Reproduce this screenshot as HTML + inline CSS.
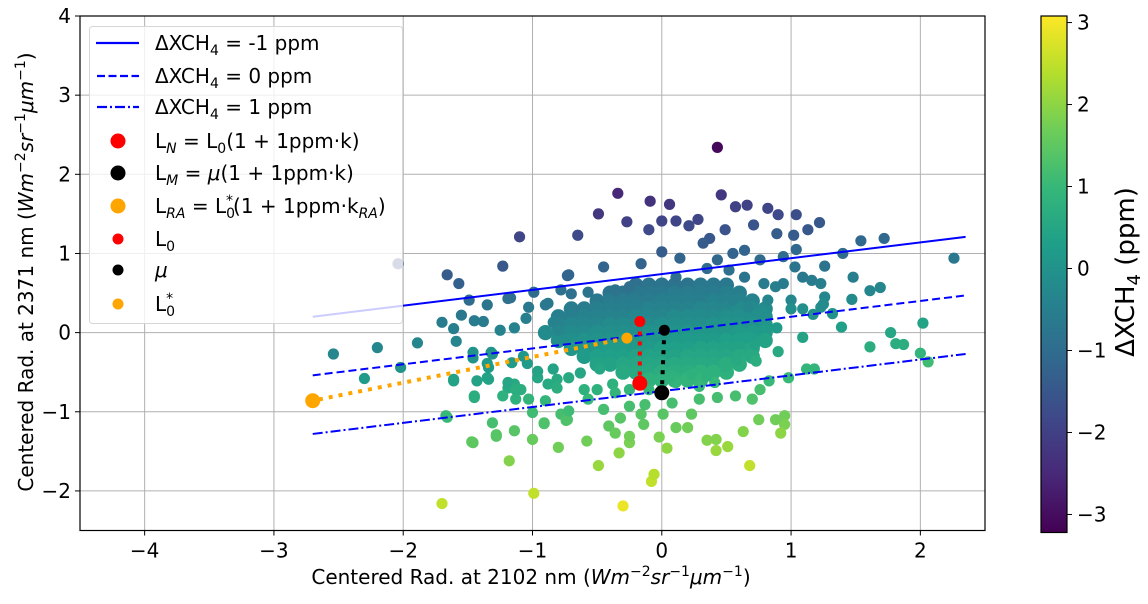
<!DOCTYPE html>
<html><head><meta charset="utf-8"><style>
html,body{margin:0;padding:0;background:#fff;}
body{position:relative;width:1148px;height:599px;overflow:hidden;}
svg text{font-family:"DejaVu Sans","Liberation Sans",sans-serif;fill:#000;}
</style></head><body>
<svg id="chart" xmlns="http://www.w3.org/2000/svg" width="1148" height="599" viewBox="0 0 1148 599">
<g id="grid"></g>
<g id="points"></g>
<g id="lines"></g>
<g id="specials"></g>
<g id="axes"></g>
<g id="cbar"></g>
</svg>
<script>
// ---- data ----
const xTicks = [-4,-3,-2,-1,0,1,2];
const yTicks = [-2,-1,0,1,2,3,4];
const cTicks = [-3,-2,-1,0,1,2,3];
const xDomain = [-4.5, 2.5];
const yDomain = [-2.5, 4];
const cDomain = [-3.22, 3.08];
// scattered (outlying) points
const xs = [
0.43,-0.34,-0.09,0.06,0.46,-0.49,-0.27,0,0.11,0.28,0.57,0.66,0.82,0.9,1.04,1.22,0.71,-0.65,-1.1,-1.23,-1.66,-1.57,1.54,1.72,2.26,1.4,1.48,1.61,1.69,1.47,1.26,1.13,0.89,0.49,0.37,0.21,-0.1,1.04,1.02,1.03,1.09,1.16,1.23,0.79,0.88,0.94,0.94,0.76,0.64,0.55,0.43,0.32,0.14,0,-0.16,-0.45,-0.72,-0.99,-1.19,-1.35,-1.49,-1.55,-0.9,-0.78,-0.57,-0.36,-0.25,0.11,0.35,0.52,0.64,1.26,1.23,1.32,1.09,1.0,0.82,0.67,0.55,
-2.54,-2.2,-1.89,-1.7,-1.45,-1.38,-1.61,-1.59,-2.3,-2.02,-1.61,-1.66,-1.45,-1.46,-1.28,-1.14,-0.91,-0.78,-0.74,-1.46,-1.32,-1.25,-1.14,-1.05,-1.17,-1.03,-0.88,-0.84,-0.8,-0.73,-0.7,-1.35,-1.14,-1.09,-1.19,-0.96,-0.88,-1.35,-1.04,
-1.7,-0.99,-0.3,-0.08,-0.06,0.68,-0.49,-0.33,-1.18,-1.47,-1,-0.8,-0.58,-0.25,0.04,-0.02,0.35,0.42,0.42,0.51,0.63,0.75,0.88,0.95,0.95,0.92,2.02,2.06,2.0,1.77,1.81,1.87,1.61,1.39,1.09,0.9,1.12,1.18,0.98,0.83,0.73,0.58,0.76,0.7,0.57,0.43,0.29,0.2,0.11,0.23,0.01,-0.14,-0.16,-0.32,-0.41,-0.36,-0.25,-0.73,-0.91,-1,-1.13,-1.28,-1.31,-1.67,-1.45,-1.23,-1.03,-0.9,-0.72,-0.57,-0.45,-0.25,-0.13,0.08,-1.61,-1.46,-1.43,-1.34,-1.19,-1.13,-0.81,-0.81,-0.6,-0.5,-0.38,-0.36,-0.25,-0.1,0.11,0.29,0.41,0.49,0.35,0.23,0.07,1.0,1.17,1.25,0.89,0.79,0.66,0.72,-1.16,-1.34,-1.31,-1.07,-0.96,-0.84,-0.72,-0.63,-0.48
];
const ys = [
2.34,1.76,1.66,1.62,1.74,1.5,1.4,1.41,1.41,1.43,1.59,1.61,1.57,1.49,1.49,1.39,1.36,1.23,1.21,0.84,0.73,0.62,1.16,1.19,0.94,1.0,0.7,0.53,0.57,0.42,0.84,1.3,1.25,1.3,1.19,1.35,1.3,1.05,1.23,0.83,0.7,0.66,0.62,0.62,0.58,0.62,0.96,0.92,1.04,1.0,0.92,1.13,0.94,1.02,0.87,0.83,0.73,0.51,0.43,0.35,0.41,0.22,0.35,0.54,0.51,0.54,0.58,0.7,0.81,0.79,0.7,0.45,0.32,0.24,0.3,0.41,0.41,0.32,0.41,
-0.27,-0.19,-0.13,0.13,0.15,0.14,0.05,-0.11,-0.58,-0.44,-0.61,-1.07,-0.82,-1.39,-1.31,-1.24,-1.15,-1.03,-1.11,-0.32,-0.25,0.03,0.06,0.18,0.44,0.32,0.37,0.13,0.03,0.72,0.49,-0.57,-0.65,-0.72,-0.7,-0.57,-0.65,-0.39,-0.39,
-2.16,-2.03,-2.19,-1.88,-1.79,-1.68,-1.68,-1.52,-1.62,-1.38,-1.35,-1.45,-1.37,-1.39,-1.46,-1.32,-1.36,-1.35,-1.49,-1.44,-1.25,-1.1,-1.1,-1.05,-1.16,-1.27,0.12,-0.37,-0.26,0,-0.14,-0.15,-0.18,0.07,-0.06,-0.24,-0.46,-0.46,-0.57,-0.61,-0.36,-0.35,-0.72,-0.84,-0.8,-0.82,-0.84,-1.2,-1.2,-1.03,-1.03,-1.16,-1.03,-1.08,-1.18,-1.27,-1.31,-1.1,-1.14,-1.01,-0.84,-1.29,-1.14,-1.05,-0.8,-0.8,-0.84,-0.86,-0.99,-0.84,-0.97,-0.93,-0.91,-0.89,-0.59,-0.25,-0.61,-0.59,-0.63,-0.72,-0.59,-0.7,-0.72,-0.72,-0.65,-0.76,-0.72,-0.72,-0.63,-0.68,-0.63,-0.44,-0.55,-0.53,-0.55,0.3,0.23,0.36,0.06,0.25,-0.06,-0.15,-0.38,-0.44,-0.27,-0.3,-0.49,-0.46,-0.57,-0.51,-0.46
];
const cs = [
-3.1,-2.5,-2.3,-2.2,-2.2,-2.2,-2.0,-1.9,-1.9,-1.9,-2.0,-2.0,-1.9,-1.8,-1.7,-1.5,-1.6,-1.8,-1.9,-1.5,-1.4,-1.3,-1.1,-1.1,-0.7,-1.0,-0.5,-0.3,-0.3,-0.2,-0.8,-1.5,-1.4,-1.6,-1.5,-1.8,-1.8,-1.1,-1.4,-0.8,-0.7,-0.6,-0.5,-0.6,-0.5,-0.6,-1.0,-1.0,-1.2,-1.2,-1.1,-1.4,-1.2,-1.4,-1.2,-1.2,-1.2,-1.0,-0.9,-0.8,-1.0,-0.7,-0.7,-0.9,-0.8,-0.8,-0.9,-0.9,-1.0,-0.9,-0.8,-0.3,-0.1,0.0,-0.1,-0.3,-0.3,-0.3,-0.4,
-0.3,-0.3,-0.3,-0.6,-0.6,-0.6,-0.5,-0.3,0.2,0.0,0.4,1.0,0.7,1.5,1.4,1.4,1.3,1.2,1.3,0.0,0.0,-0.4,-0.4,-0.5,-0.9,-0.7,-0.7,-0.4,-0.3,-1.2,-0.9,0.4,0.6,0.7,0.6,0.5,0.6,0.2,0.2,
2.5,2.5,2.9,2.5,2.4,2.5,2.1,2.0,1.9,1.5,1.6,1.7,1.7,1.8,2.0,1.8,1.9,1.9,2.1,2.1,1.9,1.7,1.7,1.7,1.8,2.0,0.4,1.1,0.9,0.5,0.7,0.7,0.7,0.3,0.4,0.6,0.9,0.9,1.0,1.0,0.7,0.6,1.2,1.3,1.2,1.2,1.2,1.7,1.6,1.5,1.4,1.5,1.4,1.4,1.5,1.6,1.7,1.3,1.3,1.1,0.8,1.4,1.2,1.0,0.7,0.8,0.9,0.9,1.1,1.0,1.2,1.2,1.2,1.2,0.4,0.0,0.4,0.4,0.5,0.7,0.6,0.7,0.8,0.8,0.8,0.9,0.9,0.9,0.9,1.0,1.0,0.7,0.8,0.8,0.8,-0.1,0.0,-0.2,0.2,-0.1,0.3,0.4,0.2,0.2,0.0,0.1,0.4,0.4,0.6,0.5,0.5
];
// dense core of the cloud
const coreX = [
-0.2,-0.1,0,0.1,0.2,0.3,0.4,0.5,
-0.4,-0.3,-0.2,-0.1,0,0.1,0.2,0.3,0.4,0.5,0.6,
-0.5,-0.4,-0.3,-0.2,-0.1,0,0.1,0.2,0.3,0.4,0.5,0.6,0.7,
-0.7,-0.6,-0.5,-0.4,-0.3,-0.2,-0.1,0,0.1,0.2,0.3,0.4,0.5,0.6,0.7,0.8,
-0.8,-0.7,-0.6,-0.5,-0.4,-0.3,-0.2,-0.1,0,0.1,0.2,0.3,0.4,0.5,0.6,0.7,0.8,
-0.8,-0.7,-0.6,-0.5,-0.4,-0.3,-0.2,-0.1,0,0.1,0.2,0.3,0.4,0.5,0.6,0.7,0.8,
-0.9,-0.8,-0.7,-0.6,-0.5,-0.4,-0.3,-0.2,-0.1,0,0.1,0.2,0.3,0.4,0.5,0.6,0.7,0.8,
-0.8,-0.7,-0.6,-0.5,-0.4,-0.3,-0.2,-0.1,0,0.1,0.2,0.3,0.4,0.5,0.6,0.7,0.8,
-0.7,-0.6,-0.5,-0.4,-0.3,-0.2,-0.1,0,0.1,0.2,0.3,0.4,0.5,0.6,0.7,
-0.6,-0.5,-0.4,-0.3,-0.2,-0.1,0,0.1,0.2,0.3,0.4,0.5,0.6,0.7,
-0.5,-0.4,-0.3,-0.2,-0.1,0,0.1,0.2,0.3,0.4,0.5,0.6,
-0.3,-0.2,-0.1,0,0.1,0.2,0.3,0.4,0.5,
-0.1,0,0.1,0.2,0.3
];
const coreY = [
0.6,0.6,0.6,0.6,0.6,0.6,0.6,0.6,
0.5,0.5,0.5,0.5,0.5,0.5,0.5,0.5,0.5,0.5,0.5,
0.4,0.4,0.4,0.4,0.4,0.4,0.4,0.4,0.4,0.4,0.4,0.4,0.4,
0.3,0.3,0.3,0.3,0.3,0.3,0.3,0.3,0.3,0.3,0.3,0.3,0.3,0.3,0.3,0.3,
0.2,0.2,0.2,0.2,0.2,0.2,0.2,0.2,0.2,0.2,0.2,0.2,0.2,0.2,0.2,0.2,0.2,
0.1,0.1,0.1,0.1,0.1,0.1,0.1,0.1,0.1,0.1,0.1,0.1,0.1,0.1,0.1,0.1,0.1,
0,0,0,0,0,0,0,0,0,0,0,0,0,0,0,0,0,0,
-0.1,-0.1,-0.1,-0.1,-0.1,-0.1,-0.1,-0.1,-0.1,-0.1,-0.1,-0.1,-0.1,-0.1,-0.1,-0.1,-0.1,
-0.2,-0.2,-0.2,-0.2,-0.2,-0.2,-0.2,-0.2,-0.2,-0.2,-0.2,-0.2,-0.2,-0.2,-0.2,
-0.3,-0.3,-0.3,-0.3,-0.3,-0.3,-0.3,-0.3,-0.3,-0.3,-0.3,-0.3,-0.3,-0.3,
-0.4,-0.4,-0.4,-0.4,-0.4,-0.4,-0.4,-0.4,-0.4,-0.4,-0.4,-0.4,
-0.5,-0.5,-0.5,-0.5,-0.5,-0.5,-0.5,-0.5,-0.5,
-0.6,-0.6,-0.6,-0.6,-0.6
];
const coreC = [
-0.9,-0.8,-0.8,-0.8,-0.8,-0.7,-0.7,-0.7,
-0.8,-0.8,-0.7,-0.7,-0.7,-0.6,-0.6,-0.6,-0.6,-0.5,-0.5,
-0.7,-0.6,-0.6,-0.6,-0.6,-0.5,-0.5,-0.5,-0.5,-0.4,-0.4,-0.4,-0.4,
-0.6,-0.6,-0.5,-0.5,-0.5,-0.5,-0.4,-0.4,-0.4,-0.4,-0.3,-0.3,-0.3,-0.2,-0.2,-0.2,
-0.5,-0.5,-0.4,-0.4,-0.4,-0.4,-0.3,-0.3,-0.3,-0.2,-0.2,-0.2,-0.2,-0.1,-0.1,-0.1,-0.1,
-0.4,-0.3,-0.3,-0.3,-0.2,-0.2,-0.2,-0.2,-0.1,-0.1,-0.1,-0.1,0,0,0,0,0.1,
-0.2,-0.2,-0.2,-0.2,-0.1,-0.1,-0.1,-0.1,0,0,0,0.1,0.1,0.1,0.1,0.2,0.2,0.2,
-0.1,-0.1,0,0,0,0.1,0.1,0.1,0.1,0.2,0.2,0.2,0.2,0.3,0.3,0.3,0.4,
0.1,0.1,0.1,0.2,0.2,0.2,0.2,0.3,0.3,0.3,0.4,0.4,0.4,0.4,0.5,
0.2,0.3,0.3,0.3,0.4,0.4,0.4,0.4,0.5,0.5,0.5,0.5,0.6,0.6,
0.4,0.4,0.5,0.5,0.5,0.5,0.6,0.6,0.6,0.6,0.7,0.7,
0.6,0.6,0.6,0.7,0.7,0.7,0.8,0.8,0.8,
0.8,0.8,0.8,0.9,0.9
];
// faded point hidden behind legend
const fadedX = [-2.04];
const fadedY = [0.87];
const fadedC = [-1.7];
// reference lines: ΔXCH4 = -1, 0, 1 ppm
const lineX = [-2.7, 2.35];
const lineMinus1Y = [0.2, 1.21];
const line0Y = [-0.54, 0.47];
const line1Y = [-1.28, -0.27];
// special points
const L0 = [-0.17, 0.14], LN = [-0.17, -0.64];
const MU = [0.02, 0.03], LM = [0.0, -0.76];
const L0s = [-0.27, -0.07], LRA = [-2.7, -0.86];

// ---- layout ----
const P = {l:80, r:985, t:16, b:530.5};
const sx = v => P.l + (v - xDomain[0]) / (xDomain[1]-xDomain[0]) * (P.r-P.l);
const sy = v => P.b - (v - yDomain[0]) / (yDomain[1]-yDomain[0]) * (P.b-P.t);
const CB = {l:1041, r:1067, t:16, b:532.5};
const sc = v => CB.b - (v - cDomain[0]) / (cDomain[1]-cDomain[0]) * (CB.b-CB.t);
const NS = "http://www.w3.org/2000/svg";
const VIR = [[68,1,84],[72,40,120],[62,73,137],[49,104,142],[38,130,142],[31,158,137],[53,183,121],[109,205,89],[180,222,44],[253,231,37]];
function vir(t){t=Math.max(0,Math.min(1,t));const f=t*(VIR.length-1);const i=Math.min(VIR.length-2,Math.floor(f));const u=f-i;const a=VIR[i],b=VIR[i+1];return `rgb(${a.map((v,k)=>Math.round(v+(b[k]-v)*u)).join(',')})`;}
const cnorm = c => (c - cDomain[0])/(cDomain[1]-cDomain[0]);
function mk(tag, attrs, parent){const e=document.createElementNS(NS,tag);for(const k in attrs)e.setAttribute(k,attrs[k]);parent.appendChild(e);return e;}

const grid=document.getElementById('grid');
xTicks.forEach(t=>{const l=mk('line',{x1:sx(t),x2:sx(t),y1:P.t,y2:P.b,stroke:'#b0b0b0','stroke-width':1},grid);

});
yTicks.forEach(t=>{const l=mk('line',{x1:P.l,x2:P.r,y1:sy(t),y2:sy(t),stroke:'#b0b0b0','stroke-width':1},grid);

});

const pts=document.getElementById('points');
for(let i=0;i<coreX.length;i++){
  const c=mk('circle',{cx:sx(coreX[i]),cy:sy(coreY[i]),r:7.6,fill:vir(cnorm(coreC[i]))},pts);
  
  
}
for(let i=0;i<xs.length;i++){
  const c=mk('circle',{cx:sx(xs[i]),cy:sy(ys[i]),r:5.6,fill:vir(cnorm(cs[i]))},pts);
  
  
}
for(let i=0;i<fadedX.length;i++){
  const c=mk('circle',{cx:sx(fadedX[i]),cy:sy(fadedY[i]),r:5.6,fill:vir(cnorm(fadedC[i]))},pts);
  
  
}

const lines=document.getElementById('lines');
[[lineMinus1Y,'none','line-minus1ppm'],[line0Y,'8,4','line-0ppm'],[line1Y,'10,3,2,3','line-1ppm']].forEach(([yy,dash,name])=>{
  const l=mk('line',{x1:sx(lineX[0]),y1:sy(yy[0]),x2:sx(lineX[1]),y2:sy(yy[1]),stroke:'#0000ff','stroke-width':2,'stroke-dasharray':dash},lines);
  
  
});

const sp=document.getElementById('specials');
function dotted(a,b,col,name){const l=mk('line',{x1:sx(a[0]),y1:sy(a[1]),x2:sx(b[0]),y2:sy(b[1]),stroke:col,'stroke-width':4,'stroke-dasharray':'4,6'},sp);

}
dotted(L0,LN,'#ff0000','l0-to-ln-dotted');
dotted(MU,LM,'#000000','mu-to-lm-dotted');
dotted(L0s,LRA,'#ffa500','l0star-to-lra-dotted');
function dot(p,r,col,name){const c=mk('circle',{cx:sx(p[0]),cy:sy(p[1]),r:r,fill:col},sp);

}
dot(L0,5.5,'#ff0000','l0-point'); dot(LN,7.5,'#ff0000','ln-point');
dot(MU,5.5,'#000000','mu-point'); dot(LM,7.5,'#000000','lm-point');
dot(L0s,5.5,'#ffa500','l0star-point'); dot(LRA,7.5,'#ffa500','lra-point');

// axes frame, ticks, labels
const ax=document.getElementById('axes');
const fr=mk('rect',{x:P.l,y:P.t,width:P.r-P.l,height:P.b-P.t,fill:'none',stroke:'#000','stroke-width':1.2},ax);


xTicks.forEach(t=>{
  mk('line',{x1:sx(t),x2:sx(t),y1:P.b,y2:P.b+5,stroke:'#000'},ax);
  const tx=mk('text',{x:sx(t),y:P.b+27,'text-anchor':'middle','font-size':20},ax);
  tx.textContent=(t<0?'\u2212'+(-t):t);
  
  
});
yTicks.forEach(t=>{
  mk('line',{x1:P.l-5,x2:P.l,y1:sy(t),y2:sy(t),stroke:'#000'},ax);
  const tx=mk('text',{x:P.l-9,y:sy(t)+7,'text-anchor':'end','font-size':20},ax);
  tx.textContent=(t<0?'\u2212'+(-t):t);
  
  
});
// colorbar
const cb=document.getElementById('cbar');
const defs=mk('defs',{},cb);
const g=mk('linearGradient',{id:'vg',x1:0,y1:1,x2:0,y2:0},defs);
VIR.forEach((c,i)=>mk('stop',{offset:i/(VIR.length-1),'stop-color':`rgb(${c.join(',')})`},g));
const r=mk('rect',{x:CB.l,y:CB.t,width:CB.r-CB.l,height:CB.b-CB.t,fill:'url(#vg)',stroke:'#000','stroke-width':1.2},cb);


cTicks.forEach(t=>{
  mk('line',{x1:CB.r,x2:CB.r+5,y1:sc(t),y2:sc(t),stroke:'#000'},cb);
  const tx=mk('text',{x:CB.r+10,y:sc(t)+7,'font-size':20},cb);
  tx.textContent=(t<0?'\u2212'+(-t):t);
  
  
});
</script>
<svg style="position:absolute;left:0;top:0" width="1148" height="599">
<text x="531" y="584" text-anchor="middle" font-size="20">Centered Rad. at 2102 nm (<tspan font-style="italic">Wm</tspan><tspan font-size="14" dy="-8">−2</tspan><tspan font-style="italic" dy="8">sr</tspan><tspan font-size="14" dy="-8">−1</tspan><tspan font-style="italic" dy="8">μm</tspan><tspan font-size="14" dy="-8">−1</tspan><tspan dy="8">)</tspan></text>
<text transform="translate(33,272) rotate(-90)" text-anchor="middle" font-size="20">Centered Rad. at 2371 nm (<tspan font-style="italic">Wm</tspan><tspan font-size="14" dy="-8">−2</tspan><tspan font-style="italic" dy="8">sr</tspan><tspan font-size="14" dy="-8">−1</tspan><tspan font-style="italic" dy="8">μm</tspan><tspan font-size="14" dy="-8">−1</tspan><tspan dy="8">)</tspan></text>
<text transform="translate(1134,272) rotate(-90)" text-anchor="middle" font-size="26">ΔXCH<tspan font-size="18" dy="6">4</tspan><tspan dy="-6"> (ppm)</tspan></text>
<g>
<rect x="89.5" y="26.5" width="313" height="297" rx="3" fill="rgba(255,255,255,0.8)" stroke="#d6d6d6"/>
<g><line x1="96" x2="139" y1="43" y2="43" stroke="#00f" stroke-width="2.2"/><text x="155" y="50" font-size="20">ΔXCH<tspan font-size="14" dy="5">4</tspan><tspan dy="-5"> = -1 ppm</tspan></text></g>
<g><line x1="97" x2="139" y1="76" y2="76" stroke="#00f" stroke-width="2.2" stroke-dasharray="8,3.5"/><text x="155" y="83" font-size="20">ΔXCH<tspan font-size="14" dy="5">4</tspan><tspan dy="-5"> = 0 ppm</tspan></text></g>
<g><line x1="97" x2="139" y1="107" y2="107" stroke="#00f" stroke-width="2.2" stroke-dasharray="10,3,2,3"/><text x="155" y="114" font-size="20">ΔXCH<tspan font-size="14" dy="5">4</tspan><tspan dy="-5"> = 1 ppm</tspan></text></g>
<g><circle cx="118" cy="141" r="7.5" fill="#f00"/><text x="155" y="148" font-size="20">L<tspan font-size="14" font-style="italic" dy="5">N</tspan><tspan dy="-5"> = L</tspan><tspan font-size="14" dy="5">0</tspan><tspan dy="-5">(1 + 1ppm·k)</tspan></text></g>
<g><circle cx="118" cy="173" r="7.5" fill="#000"/><text x="155" y="180" font-size="20">L<tspan font-size="14" font-style="italic" dy="5">M</tspan><tspan dy="-5"> = </tspan><tspan font-style="italic">μ</tspan><tspan>(1 + 1ppm·k)</tspan></text></g>
<g><circle cx="118" cy="206" r="7.5" fill="#ffa500"/><text x="155" y="213" font-size="20">L<tspan font-size="14" font-style="italic" dy="5">RA</tspan><tspan dy="-5"> = L</tspan><tspan font-size="14" dy="5">0</tspan><tspan font-size="14" dx="-9" dy="-13">*</tspan><tspan dy="8">(1 + 1ppm·k</tspan><tspan font-size="14" font-style="italic" dy="5">RA</tspan><tspan dy="-5">)</tspan></text></g>
<g><circle cx="118" cy="239" r="5.5" fill="#f00"/><text x="155" y="246" font-size="20">L<tspan font-size="14" dy="5">0</tspan></text></g>
<g><circle cx="118" cy="270" r="5.5" fill="#000"/><text x="155" y="277" font-size="20" font-style="italic">μ</text></g>
<g><circle cx="118" cy="304" r="5.5" fill="#ffa500"/><text x="155" y="311" font-size="20">L<tspan font-size="14" dy="5">0</tspan><tspan font-size="14" dx="-9" dy="-13">*</tspan></text></g>
</g>
</svg>
</body></html>
